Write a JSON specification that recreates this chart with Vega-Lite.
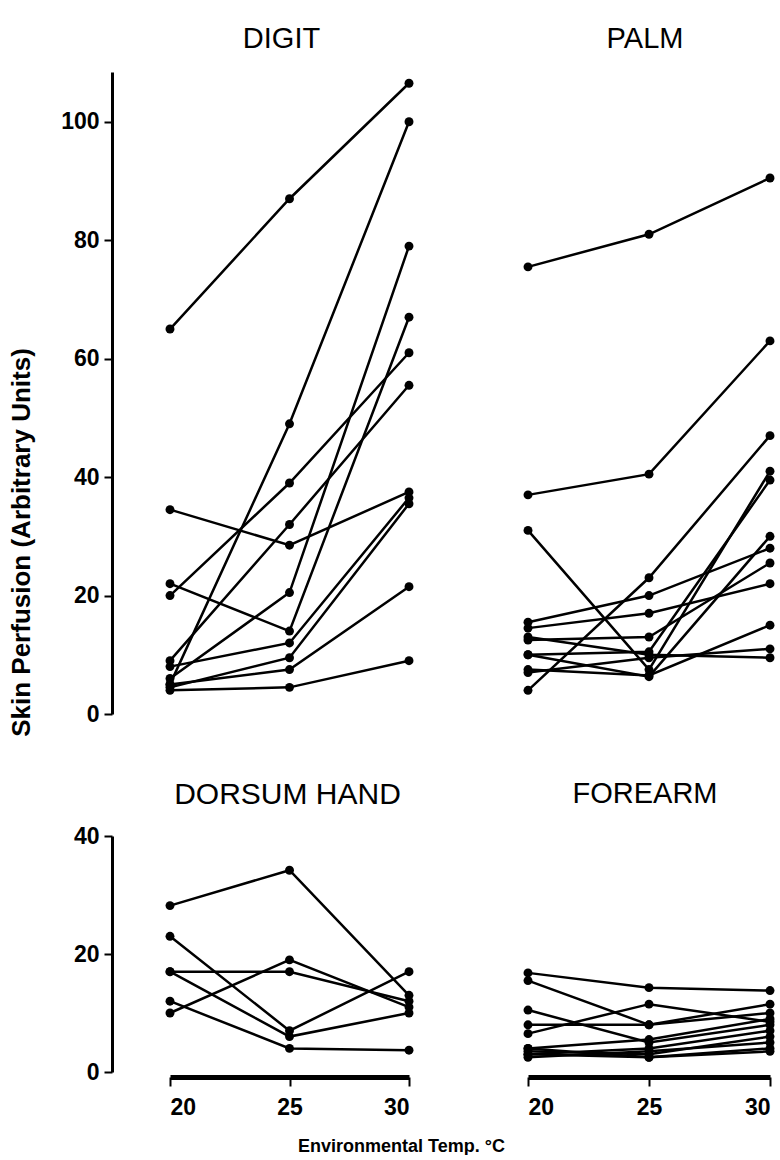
{
  "$schema": "https://vega.github.io/schema/vega-lite/v6.json",
  "background": "white",
  "padding": {"left": 8, "top": 25, "right": 0, "bottom": 0},
  "data": {"values": [
    {"s":"DIGIT","id":1,"t":20,"v":65},{"s":"DIGIT","id":1,"t":25,"v":87},{"s":"DIGIT","id":1,"t":30,"v":106.5},
    {"s":"DIGIT","id":2,"t":20,"v":5},{"s":"DIGIT","id":2,"t":25,"v":49},{"s":"DIGIT","id":2,"t":30,"v":100},
    {"s":"DIGIT","id":3,"t":20,"v":20},{"s":"DIGIT","id":3,"t":25,"v":39},{"s":"DIGIT","id":3,"t":30,"v":61},
    {"s":"DIGIT","id":4,"t":20,"v":9},{"s":"DIGIT","id":4,"t":25,"v":32},{"s":"DIGIT","id":4,"t":30,"v":55.5},
    {"s":"DIGIT","id":5,"t":20,"v":34.5},{"s":"DIGIT","id":5,"t":25,"v":28.5},{"s":"DIGIT","id":5,"t":30,"v":37.5},
    {"s":"DIGIT","id":6,"t":20,"v":6},{"s":"DIGIT","id":6,"t":25,"v":20.5},{"s":"DIGIT","id":6,"t":30,"v":79},
    {"s":"DIGIT","id":7,"t":20,"v":22},{"s":"DIGIT","id":7,"t":25,"v":14},{"s":"DIGIT","id":7,"t":30,"v":67},
    {"s":"DIGIT","id":8,"t":20,"v":8},{"s":"DIGIT","id":8,"t":25,"v":12},{"s":"DIGIT","id":8,"t":30,"v":36.5},
    {"s":"DIGIT","id":9,"t":20,"v":4.5},{"s":"DIGIT","id":9,"t":25,"v":9.5},{"s":"DIGIT","id":9,"t":30,"v":35.5},
    {"s":"DIGIT","id":10,"t":20,"v":5},{"s":"DIGIT","id":10,"t":25,"v":7.5},{"s":"DIGIT","id":10,"t":30,"v":21.5},
    {"s":"DIGIT","id":11,"t":20,"v":4},{"s":"DIGIT","id":11,"t":25,"v":4.5},{"s":"DIGIT","id":11,"t":30,"v":9},
    {"s":"PALM","id":1,"t":20,"v":75.5},{"s":"PALM","id":1,"t":25,"v":81},{"s":"PALM","id":1,"t":30,"v":90.5},
    {"s":"PALM","id":2,"t":20,"v":37},{"s":"PALM","id":2,"t":25,"v":40.5},{"s":"PALM","id":2,"t":30,"v":63},
    {"s":"PALM","id":3,"t":20,"v":31},{"s":"PALM","id":3,"t":25,"v":7.5},{"s":"PALM","id":3,"t":30,"v":41},
    {"s":"PALM","id":4,"t":20,"v":4},{"s":"PALM","id":4,"t":25,"v":23},{"s":"PALM","id":4,"t":30,"v":47},
    {"s":"PALM","id":5,"t":20,"v":15.5},{"s":"PALM","id":5,"t":25,"v":20},{"s":"PALM","id":5,"t":30,"v":28},
    {"s":"PALM","id":6,"t":20,"v":14.5},{"s":"PALM","id":6,"t":25,"v":17},{"s":"PALM","id":6,"t":30,"v":22},
    {"s":"PALM","id":7,"t":20,"v":12.5},{"s":"PALM","id":7,"t":25,"v":13},{"s":"PALM","id":7,"t":30,"v":25.5},
    {"s":"PALM","id":8,"t":20,"v":10},{"s":"PALM","id":8,"t":25,"v":10.5},{"s":"PALM","id":8,"t":30,"v":39.5},
    {"s":"PALM","id":9,"t":20,"v":10},{"s":"PALM","id":9,"t":25,"v":6.3},{"s":"PALM","id":9,"t":30,"v":30},
    {"s":"PALM","id":10,"t":20,"v":7.5},{"s":"PALM","id":10,"t":25,"v":6.5},{"s":"PALM","id":10,"t":30,"v":15},
    {"s":"PALM","id":11,"t":20,"v":13},{"s":"PALM","id":11,"t":25,"v":10},{"s":"PALM","id":11,"t":30,"v":9.5},
    {"s":"PALM","id":12,"t":20,"v":7},{"s":"PALM","id":12,"t":25,"v":9.5},{"s":"PALM","id":12,"t":30,"v":11},
    {"s":"DORSUM HAND","id":1,"t":20,"v":28.2},{"s":"DORSUM HAND","id":1,"t":25,"v":34.2},{"s":"DORSUM HAND","id":1,"t":30,"v":13},
    {"s":"DORSUM HAND","id":2,"t":20,"v":23},{"s":"DORSUM HAND","id":2,"t":25,"v":7},{"s":"DORSUM HAND","id":2,"t":30,"v":17},
    {"s":"DORSUM HAND","id":3,"t":20,"v":17},{"s":"DORSUM HAND","id":3,"t":25,"v":17},{"s":"DORSUM HAND","id":3,"t":30,"v":12},
    {"s":"DORSUM HAND","id":4,"t":20,"v":17},{"s":"DORSUM HAND","id":4,"t":25,"v":6},{"s":"DORSUM HAND","id":4,"t":30,"v":10},
    {"s":"DORSUM HAND","id":5,"t":20,"v":10},{"s":"DORSUM HAND","id":5,"t":25,"v":19},{"s":"DORSUM HAND","id":5,"t":30,"v":11},
    {"s":"DORSUM HAND","id":6,"t":20,"v":12},{"s":"DORSUM HAND","id":6,"t":25,"v":4},{"s":"DORSUM HAND","id":6,"t":30,"v":3.7},
    {"s":"FOREARM","id":1,"t":20,"v":16.8},{"s":"FOREARM","id":1,"t":25,"v":14.3},{"s":"FOREARM","id":1,"t":30,"v":13.8},
    {"s":"FOREARM","id":2,"t":20,"v":15.5},{"s":"FOREARM","id":2,"t":25,"v":8},{"s":"FOREARM","id":2,"t":30,"v":11.5},
    {"s":"FOREARM","id":3,"t":20,"v":10.5},{"s":"FOREARM","id":3,"t":25,"v":5},{"s":"FOREARM","id":3,"t":30,"v":8},
    {"s":"FOREARM","id":4,"t":20,"v":6.5},{"s":"FOREARM","id":4,"t":25,"v":11.5},{"s":"FOREARM","id":4,"t":30,"v":8.5},
    {"s":"FOREARM","id":5,"t":20,"v":8},{"s":"FOREARM","id":5,"t":25,"v":8},{"s":"FOREARM","id":5,"t":30,"v":10},
    {"s":"FOREARM","id":6,"t":20,"v":4},{"s":"FOREARM","id":6,"t":25,"v":5.5},{"s":"FOREARM","id":6,"t":30,"v":9},
    {"s":"FOREARM","id":7,"t":20,"v":3},{"s":"FOREARM","id":7,"t":25,"v":4},{"s":"FOREARM","id":7,"t":30,"v":7},
    {"s":"FOREARM","id":8,"t":20,"v":3.5},{"s":"FOREARM","id":8,"t":25,"v":3},{"s":"FOREARM","id":8,"t":30,"v":6},
    {"s":"FOREARM","id":9,"t":20,"v":2.5},{"s":"FOREARM","id":9,"t":25,"v":3.5},{"s":"FOREARM","id":9,"t":30,"v":5},
    {"s":"FOREARM","id":10,"t":20,"v":4},{"s":"FOREARM","id":10,"t":25,"v":2.5},{"s":"FOREARM","id":10,"t":30,"v":4},
    {"s":"FOREARM","id":11,"t":20,"v":3},{"s":"FOREARM","id":11,"t":25,"v":2.5},{"s":"FOREARM","id":11,"t":30,"v":3.5}
  ]},
  "columns": 2,
  "bounds": "flush",
  "spacing": {"row": 122, "column": 119},
  "concat": [
    {
      "title": {"text": "DIGIT", "frame": "group", "offset": 18, "dx": -8},
      "width": 239, "height": 642,
      "transform": [{"filter": "datum.s === 'DIGIT'"}],
      "encoding": {
        "x": {"field": "t", "type": "quantitative", "scale": {"domain": [20, 30], "nice": false, "zero": false}, "axis": null},
        "y": {"field": "v", "type": "quantitative", "scale": {"domain": [0, 108.4], "nice": false},
              "axis": {"values": [0, 20, 40, 60, 80, 100], "offset": 58, "labelPadding": 5,
                       "title": "Skin Perfusion (Arbitrary Units)", "titleFontSize": 26, "titlePadding": 26, "titleY": 470}}
      },
      "layer": [
        {"mark": {"type": "line", "color": "black", "strokeWidth": 2.5}, "encoding": {"detail": {"field": "id", "type": "nominal"}}},
        {"mark": {"type": "point", "filled": true, "color": "black", "size": 80, "opacity": 1}}
      ]
    },
    {
      "title": {"text": "PALM", "frame": "group", "offset": 18, "dx": -4},
      "width": 242, "height": 642,
      "transform": [{"filter": "datum.s === 'PALM'"}],
      "encoding": {
        "x": {"field": "t", "type": "quantitative", "scale": {"domain": [20, 30], "nice": false, "zero": false}, "axis": null},
        "y": {"field": "v", "type": "quantitative", "scale": {"domain": [0, 108.4], "nice": false}, "axis": null}
      },
      "layer": [
        {"mark": {"type": "line", "color": "black", "strokeWidth": 2.5}, "encoding": {"detail": {"field": "id", "type": "nominal"}}},
        {"mark": {"type": "point", "filled": true, "color": "black", "size": 80, "opacity": 1}}
      ]
    },
    {
      "title": {"text": "DORSUM HAND", "frame": "group", "offset": 15, "dx": -2, "fontSize": 30},
      "width": 239, "height": 236,
      "transform": [{"filter": "datum.s === 'DORSUM HAND'"}],
      "encoding": {
        "x": {"field": "t", "type": "quantitative", "scale": {"domain": [20, 30], "nice": false, "zero": false},
              "axis": {"values": [20, 25, 30], "offset": 5, "domainWidth": 5, "tickSize": 9, "labelPadding": 10,
                       "title": "Environmental Temp. °C", "titleFontSize": 18, "titleX": 231, "titlePadding": 18}},
        "y": {"field": "v", "type": "quantitative", "scale": {"domain": [0, 40], "nice": false},
              "axis": {"values": [0, 20, 40], "offset": 58, "labelPadding": 5, "title": null}}
      },
      "layer": [
        {"mark": {"type": "line", "color": "black", "strokeWidth": 2.5}, "encoding": {"detail": {"field": "id", "type": "nominal"}}},
        {"mark": {"type": "point", "filled": true, "color": "black", "size": 80, "opacity": 1}}
      ]
    },
    {
      "title": {"text": "FOREARM", "frame": "group", "offset": 27, "dx": -4},
      "width": 242, "height": 236,
      "transform": [{"filter": "datum.s === 'FOREARM'"}],
      "encoding": {
        "x": {"field": "t", "type": "quantitative", "scale": {"domain": [20, 30], "nice": false, "zero": false},
              "axis": {"values": [20, 25, 30], "offset": 5, "domainWidth": 5, "tickSize": 9, "labelPadding": 10, "title": null}},
        "y": {"field": "v", "type": "quantitative", "scale": {"domain": [0, 40], "nice": false}, "axis": null}
      },
      "layer": [
        {"mark": {"type": "line", "color": "black", "strokeWidth": 2.5}, "encoding": {"detail": {"field": "id", "type": "nominal"}}},
        {"mark": {"type": "point", "filled": true, "color": "black", "size": 80, "opacity": 1}}
      ]
    }
  ],
  "config": {
    "view": {"stroke": null},
    "font": "Liberation Sans",
    "title": {"fontSize": 29, "fontWeight": "normal", "color": "black", "font": "Liberation Sans"},
    "axis": {"domainColor": "black", "tickColor": "black", "labelColor": "black", "titleColor": "black", "grid": false,
             "labelFont": "Liberation Sans", "labelFontWeight": "bold", "labelFontSize": 23, "tickWidth": 2, "tickSize": 8,
             "domainWidth": 3, "titleFont": "Liberation Sans", "titleFontWeight": "bold"}
  }
}
